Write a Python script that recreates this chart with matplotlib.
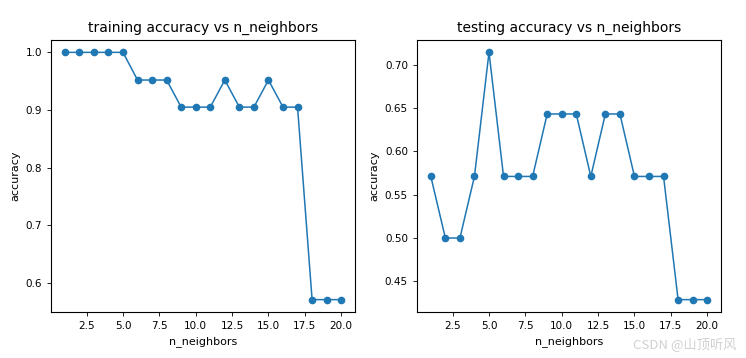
import matplotlib.pyplot as plt

# n_neighbors 1..20
n_neighbors = list(range(1, 21))
train_acc = [1.0, 1.0, 1.0, 1.0, 1.0, 0.952, 0.952, 0.952, 0.905, 0.905,
             0.905, 0.952, 0.905, 0.905, 0.952, 0.905, 0.905, 0.571, 0.571, 0.571]
test_acc = [0.571, 0.5, 0.5, 0.571, 0.714, 0.571, 0.571, 0.571, 0.643, 0.643,
            0.643, 0.571, 0.643, 0.643, 0.571, 0.571, 0.571, 0.429, 0.429, 0.429]

plt.rcParams['font.family'] = ['DejaVu Sans', 'Noto Sans CJK SC']

fig = plt.figure(figsize=(7.46, 3.58), dpi=100)

ax1 = fig.add_axes([51 / 746, 1 - 312 / 358, 304 / 746, 272 / 358])
ax1.plot(n_neighbors, train_acc, marker='o', markersize=4.5, linewidth=1.1)
ax1.set_title("training accuracy vs n_neighbors", fontsize=10)
ax1.set_xlabel("n_neighbors", fontsize=8)
ax1.set_ylabel("accuracy", fontsize=8)
ax1.tick_params(labelsize=7.5, length=3, width=0.6)

ax2 = fig.add_axes([417 / 746, 1 - 312 / 358, 304 / 746, 272 / 358])
ax2.plot(n_neighbors, test_acc, marker='o', markersize=4.5, linewidth=1.1)
ax2.set_title("testing accuracy vs n_neighbors", fontsize=10)
ax2.set_xlabel("n_neighbors", fontsize=8)
ax2.set_ylabel("accuracy", fontsize=8)
ax2.tick_params(labelsize=7.5, length=3, width=0.6)

for ax in (ax1, ax2):
    for s in ax.spines.values():
        s.set_linewidth(0.8)

fig.text(0.987, 0.018, "CSDN @山顶听风", ha='right', va='bottom',
         fontsize=9.5, color='#d0d0d0',
         family=['Noto Sans CJK SC', 'DejaVu Sans'])

plt.savefig("out.png", dpi=100)
